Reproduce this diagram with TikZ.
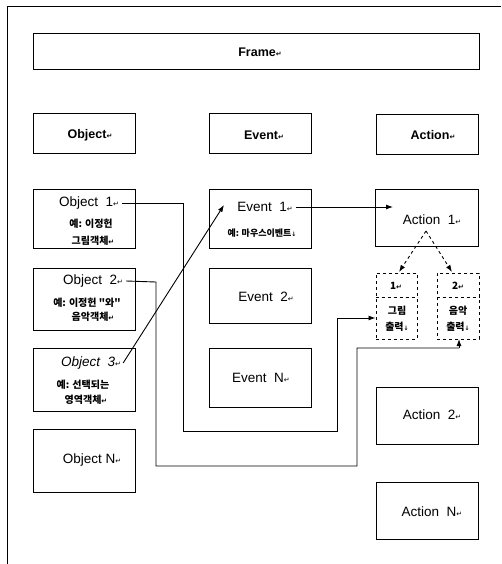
\documentclass[tikz,border=0pt]{standalone}
\usepackage{fontspec}
\setmainfont{Liberation Sans}
\newfontfamily\kr{Noto Sans CJK KR}
\newfontfamily\dv{DejaVu Sans}
\usetikzlibrary{arrows.meta}
\newcommand{\rt}{{\dv\fontsize{7}{7}\selectfont ↵}}
\newcommand{\rd}{{\dv\fontsize{6}{6}\selectfont ↓}}
\tikzset{
  box/.style={draw, line width=1pt, inner sep=0pt},
  dbox/.style={draw, dashed, line width=1pt, inner sep=0pt},
  hdr/.style={font=\bfseries\fontsize{12.5}{12.5}\selectfont, inner sep=0pt},
  lbl/.style={font=\fontsize{13.5}{13.5}\selectfont, inner sep=0pt},
  klbl/.style={font=\kr\bfseries\fontsize{10}{10}\selectfont, inner sep=0pt},
  con/.style={line width=0.9pt},
  arr/.style={line width=0.9pt, -{Latex[length=7pt,width=5pt]}},
  darr/.style={line width=0.9pt, dashed, -{Latex[length=7pt,width=5pt]}}
}
\begin{document}
\begin{tikzpicture}[x=1pt,y=-1pt]
\useasboundingbox (0,0) rectangle (501,564);
% outer frame
\draw[line width=1pt] (7,564) -- (7,7) -- (501,7);
% header boxes
\node[box, minimum width=446pt, minimum height=36pt] (frame) at (256,52) {};
\node[hdr] (framet) at (260,52) {Frame\rt};
\node[box, minimum width=102pt, minimum height=40pt] (objh) at (84,133.5) {};
\node[hdr] (objht) at (90,135) {Object\rt};
\node[box, minimum width=102pt, minimum height=40pt] (evh) at (260,134) {};
\node[hdr] (evht) at (264,135) {Event\rt};
\node[box, minimum width=102pt, minimum height=40pt] (acth) at (427,134.5) {};
\node[hdr] (actht) at (433,135) {Action\rt};
% objects
\node[box, minimum width=102pt, minimum height=59pt] (o1) at (84,218.5) {};
\node[lbl] (o1t) at (89,203) {Object\ \ 1\rt};
\node[klbl] (o1a) at (91,224) {예: 이정헌};
\node[klbl] (o1b) at (93,241) {그림객체\rt};
\node[box, minimum width=102pt, minimum height=62pt] (o2) at (84,299) {};
\node[lbl] (o2t) at (93,281) {Object\ \ 2\rt};
\node[klbl] (o2a) at (87,303) {예: 이정헌 "와"};
\node[klbl] (o2b) at (93,317) {음악객체\rt};
\node[box, minimum width=102pt, minimum height=63pt] (o3) at (84,379.5) {};
\node[lbl, font=\itshape\fontsize{13.5}{13.5}\selectfont] (o3t) at (91,363) {Object\ \ 3\rt};
\node[klbl] (o3a) at (83,385) {예: 선택되는};
\node[klbl] (o3b) at (86,400) {영역객체\rt};
\node[box, minimum width=102pt, minimum height=63pt] (oN) at (84,460.5) {};
\node[lbl] (oNt) at (92,460) {Object\ N\rt};
% events
\node[box, minimum width=102pt, minimum height=59pt] (e1) at (260,218.5) {};
\node[lbl] (e1t) at (265,207) {Event\ \ 1\rt};
\node[klbl, font=\kr\bfseries\fontsize{9}{9}\selectfont] (e1a) at (262,233) {예: 마우스이벤트\rd};
\node[box, minimum width=102pt, minimum height=55pt] (e2) at (260,295.5) {};
\node[lbl] (e2t) at (266,297) {Event\ \ 2\rt};
\node[box, minimum width=102pt, minimum height=59pt] (eN) at (260,377.5) {};
\node[lbl] (eNt) at (261,378) {Event\ \ N\rt};
% actions
\node[box, minimum width=103pt, minimum height=57pt] (a1) at (426.5,217.5) {};
\node[lbl] (a1t) at (432,220) {Action\ \ 1\rt};
\node[dbox, minimum width=41pt, minimum height=66pt] (s1) at (396.5,306) {};
\node[dbox, minimum width=42pt, minimum height=66pt] (s2) at (458,306) {};
\draw[dashed, line width=1pt] (s1.west |- 0,297) -- (s1.east |- 0,297);
\draw[dashed, line width=1pt] (s2.west |- 0,297) -- (s2.east |- 0,297);
\node[klbl] (s1a) at (396,286) {1\rt};
\node[klbl] (s1b) at (397,311) {그림};
\node[klbl] (s1c) at (397,327) {출력\rd};
\node[klbl] (s2a) at (458,286) {2\rt};
\node[klbl] (s2b) at (458,311) {음악};
\node[klbl] (s2c) at (458,327) {출력\rd};
\node[box, minimum width=102pt, minimum height=57pt] (a2) at (427,415.5) {};
\node[lbl] (a2t) at (432,415) {Action\ \ 2\rt};
\node[box, minimum width=102pt, minimum height=57pt] (aN) at (427,510.5) {};
\node[lbl] (aNt) at (432,512) {Action\ \ N\rt};
% connectors
\coordinate (ap) at (426,231);
\draw[darr] (ap) -- (399,272);
\draw[darr] (ap) -- (452,272);
\draw[arr] ([xshift=3pt]e1t.east) -- (393,207);
\draw[arr] ([xshift=2pt]o3t.east) -- (224,205);
\draw[con] ([xshift=3pt]o1t.east) -- (183,203) -- (183,431) -- (337,431) -- (337,318);
\draw[arr] (337,318) -- (s1.west |- 0,318);
\draw[con] ([xshift=3pt]o2t.east) -- (156,282) -- (156,466) -- (357,466) -- (357,348) -- (459,348);
\draw[arr] (459,348) -- (459,339);
\end{tikzpicture}
\end{document}
